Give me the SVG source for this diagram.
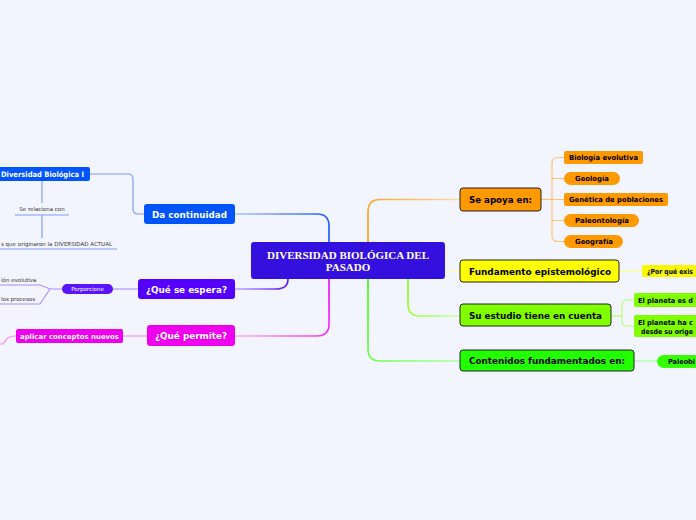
<svg xmlns="http://www.w3.org/2000/svg" width="696" height="520" viewBox="0 0 696 520">
<defs>
<style>
.bg{fill:#f3f5fe}
.t{font-family:"DejaVu Sans","Liberation Sans",sans-serif;font-weight:bold}
.m{font-size:9.5px}
.s{font-size:7px}
.w{fill:#ffffff}
.k{fill:#000000}
.sm{font-family:"DejaVu Sans","Liberation Sans",sans-serif;font-size:5.5px;fill:#333333}
.c{fill:none;stroke-linecap:round}
.rb{stroke:#222222;stroke-width:1}
</style>
<linearGradient id="gOr" gradientUnits="userSpaceOnUse" x1="368" y1="242" x2="460" y2="200"><stop offset="0" stop-color="#ff9a10"/><stop offset="1" stop-color="#ffd9a0"/></linearGradient>
<linearGradient id="gLi" gradientUnits="userSpaceOnUse" x1="408" y1="279" x2="460" y2="316"><stop offset="0" stop-color="#80ff00"/><stop offset="1" stop-color="#c8ffa0"/></linearGradient>
<linearGradient id="gGr" gradientUnits="userSpaceOnUse" x1="368" y1="279" x2="460" y2="361"><stop offset="0" stop-color="#33ff00"/><stop offset="1" stop-color="#b0ffa0"/></linearGradient>
<linearGradient id="gBl" gradientUnits="userSpaceOnUse" x1="329" y1="242" x2="235" y2="214"><stop offset="0" stop-color="#1155ff"/><stop offset="1" stop-color="#b0c4ff"/></linearGradient>
<linearGradient id="gVi" gradientUnits="userSpaceOnUse" x1="288" y1="279" x2="235" y2="289"><stop offset="0" stop-color="#5a10ff"/><stop offset="1" stop-color="#c0a8ff"/></linearGradient>
<linearGradient id="gMa" gradientUnits="userSpaceOnUse" x1="329" y1="279" x2="235" y2="336"><stop offset="0" stop-color="#ee00ee"/><stop offset="1" stop-color="#ffb0ff"/></linearGradient>
</defs>
<rect class="bg" x="0" y="0" width="696" height="520"/>

<g id="connectors">
<path class="c" stroke="url(#gOr)" stroke-width="1.6" d="M368,242 V212 Q368,199.5 380,199.5 H460"/>
<path class="c" stroke="#ffff90" stroke-width="1.2" d="M445,271 H460"/>
<path class="c" stroke="url(#gLi)" stroke-width="1.6" d="M408,279 V304 Q408,316 420,316 H460"/>
<path class="c" stroke="url(#gGr)" stroke-width="1.6" d="M368,279 V349 Q368,361 380,361 H460"/>
<path class="c" stroke="url(#gBl)" stroke-width="1.6" d="M329,242 V226 Q329,214 317,214 H235"/>
<path class="c" stroke="url(#gVi)" stroke-width="1.6" d="M288,279 Q288,289 276,289 H235"/>
<path class="c" stroke="url(#gMa)" stroke-width="1.6" d="M329,279 V324 Q329,336 317,336 H235"/>

<g fill="none" stroke="#ffc070" stroke-width="1.2">
<path d="M541,199.5 H552"/>
<path d="M564,157.5 H558 Q552,157.5 552,163.5 V235.5 Q552,241.5 558,241.5 H564"/>
<path d="M552,178.5 H564 M552,199.5 H564 M552,220.5 H564"/>
</g>
<path fill="none" stroke="#ffff80" stroke-width="1.2" d="M619,271 H642"/>
<g fill="none" stroke="#b8ff70" stroke-width="1.2">
<path d="M611,316 H622"/>
<path d="M634,300 H627 Q622,300 622,305 V321 Q622,326 627,326 H634"/>
</g>
<path fill="none" stroke="#a0ffa0" stroke-width="1.2" d="M634,361 H657"/>

<g fill="none" stroke="#7f9cff" stroke-width="1.2">
<path d="M144,214 H138 Q133,214 133,209 V179 Q133,174 128,174 H90"/>
<path d="M42,181 V203"/>
<path d="M15,215 H69"/>
<path d="M42,215 V238"/>
<path d="M0,249 H117"/>
</g>
<g fill="none" stroke="#a98cff" stroke-width="1.1">
<path d="M138,289 H113"/>
<path d="M62,289 H50 L40,285 H0"/>
<path d="M50,289 L40,304 H0"/>
</g>
<g fill="none" stroke="#ff80ff" stroke-width="1.1">
<path d="M147,336 H123"/>
<path d="M16,336 Q8,336 6,340 L3,344 H0"/>
</g>
</g>

<g id="central">
<rect x="251" y="242" width="194" height="37" rx="3" fill="#3410de"/>
<text x="348" y="259" text-anchor="middle" font-family="'Liberation Serif',serif" font-weight="bold" font-size="11" fill="#ffffff">DIVERSIDAD BIOLÓGICA DEL</text>
<text x="348" y="271" text-anchor="middle" font-family="'Liberation Serif',serif" font-weight="bold" font-size="11" fill="#ffffff">PASADO</text>
</g>

<g id="se-apoya">
<rect class="rb" x="460" y="188" width="81" height="23" rx="3" fill="#ff9900"/>
<text class="t m k" x="469" y="203" textLength="63" lengthAdjust="spacingAndGlyphs">Se apoya en:</text>
</g>
<g id="biologia-evolutiva">
<rect x="564" y="151" width="79" height="13" rx="2" fill="#ff9900"/>
<text class="t s k" x="569" y="160" textLength="69" lengthAdjust="spacingAndGlyphs">Biología evolutiva</text>
</g>
<g id="geologia">
<rect x="564" y="172" width="56" height="13" rx="6.5" fill="#ff9900"/>
<text class="t s k" x="575" y="181" textLength="34" lengthAdjust="spacingAndGlyphs">Geología</text>
</g>
<g id="genetica">
<rect x="564" y="193" width="104" height="13" rx="2" fill="#ff9900"/>
<text class="t s k" x="569" y="202" textLength="94" lengthAdjust="spacingAndGlyphs">Genética de poblaciones</text>
</g>
<g id="paleontologia">
<rect x="564" y="214" width="75" height="13" rx="6.5" fill="#ff9900"/>
<text class="t s k" x="575" y="223" textLength="54" lengthAdjust="spacingAndGlyphs">Paleontología</text>
</g>
<g id="geografia">
<rect x="564" y="235" width="59" height="13" rx="6.5" fill="#ff9900"/>
<text class="t s k" x="575" y="244" textLength="38" lengthAdjust="spacingAndGlyphs">Geografía</text>
</g>

<g id="fundamento">
<rect class="rb" x="460" y="260" width="159" height="22" rx="3" fill="#ffff00"/>
<text class="t m k" x="469" y="274.5" textLength="142" lengthAdjust="spacingAndGlyphs">Fundamento epistemológico</text>
</g>
<g id="por-que">
<path d="M644,265 H696 V277 H644 Q642,277 642,275 V267 Q642,265 644,265 Z" fill="#f8f800"/>
<text class="t s k" x="647" y="273.5" textLength="46" lengthAdjust="spacingAndGlyphs">¿Por qué exis</text>
</g>

<g id="su-estudio">
<rect class="rb" x="460" y="304" width="151" height="22" rx="3" fill="#80ff00"/>
<text class="t m k" x="469" y="318.5" textLength="133" lengthAdjust="spacingAndGlyphs">Su estudio tiene en cuenta</text>
</g>
<g id="planeta-es">
<path d="M636,293 H696 V307 H636 Q634,307 634,305 V295 Q634,293 636,293 Z" fill="#80ff00"/>
<text class="t s k" x="638" y="302.5" textLength="55" lengthAdjust="spacingAndGlyphs">El planeta es d</text>
</g>
<g id="planeta-ha">
<path d="M636,315 H696 V337 H636 Q634,337 634,335 V317 Q634,315 636,315 Z" fill="#80ff00"/>
<text class="t s k" x="638" y="325" textLength="55" lengthAdjust="spacingAndGlyphs">El planeta ha c</text>
<text class="t s k" x="641" y="333.5" textLength="52" lengthAdjust="spacingAndGlyphs">desde su orige</text>
</g>

<g id="contenidos">
<rect class="rb" x="460" y="350" width="174" height="21" rx="3" fill="#22ff00"/>
<text class="t m k" x="469" y="364" textLength="156" lengthAdjust="spacingAndGlyphs">Contenidos fundamentados en:</text>
</g>
<g id="paleobi">
<path d="M663.5,355 H696 V368 H663.5 A6.5,6.5 0 0 1 663.5,355 Z" fill="#33ff00"/>
<text class="t s k" x="668" y="364" textLength="27" lengthAdjust="spacingAndGlyphs">Paleobi</text>
</g>

<g id="da-continuidad">
<rect x="144" y="204" width="91" height="20" rx="3" fill="#0055ff"/>
<text class="t m w" x="152" y="217.5" textLength="75" lengthAdjust="spacingAndGlyphs">Da continuidad</text>
</g>
<g id="diversidad-biologica-i">
<rect x="-8" y="167" width="98" height="14" rx="2" fill="#0055ff"/>
<text class="t w" font-size="7.5" x="1" y="177" textLength="83" lengthAdjust="spacingAndGlyphs">Diversidad Biológica I</text>
</g>
<g id="se-relaciona">
<text class="sm" x="42" y="211" text-anchor="middle">Se relaciona con</text>
</g>
<g id="procesos">
<text class="sm" x="1" y="246" textLength="111" lengthAdjust="spacingAndGlyphs">s que originaron la DIVERSIDAD ACTUAL</text>
</g>

<g id="que-se-espera">
<rect x="138" y="279" width="97" height="20" rx="3" fill="#5500ff"/>
<text class="t m w" x="146" y="292.5" textLength="81" lengthAdjust="spacingAndGlyphs">¿Qué se espera?</text>
</g>
<g id="porporcione">
<rect x="62" y="284" width="51" height="10" rx="5" fill="#5a14ff"/>
<text font-family="'DejaVu Sans',sans-serif" font-size="5.5" fill="#ffffff" x="87.5" y="291" text-anchor="middle">Porporcione</text>
</g>
<g id="evolutiva">
<text class="sm" x="1" y="282">ión evolutiva</text>
</g>
<g id="los-procesos">
<text class="sm" x="1" y="301">los procesos</text>
</g>

<g id="que-permite">
<rect x="147" y="325" width="88" height="21" rx="3" fill="#ee00ee"/>
<text class="t m w" x="155" y="339" textLength="72" lengthAdjust="spacingAndGlyphs">¿Qué permite?</text>
</g>
<g id="aplicar">
<rect x="16" y="329" width="107" height="14" rx="2" fill="#ee00ee"/>
<text class="t s w" x="20" y="338.5" textLength="99" lengthAdjust="spacingAndGlyphs">aplicar conceptos nuevos</text>
</g>
</svg>
